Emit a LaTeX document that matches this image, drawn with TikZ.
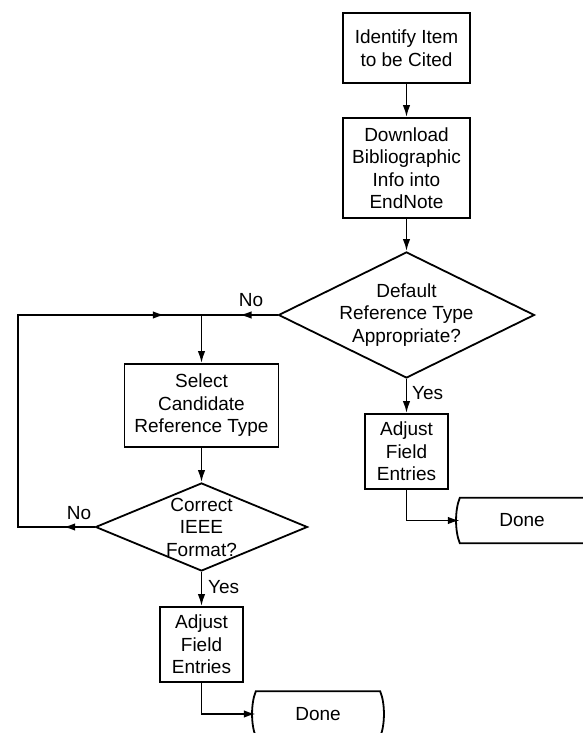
\documentclass[tikz,border=0pt]{standalone}
\usepackage{fontspec}
\setmainfont{Liberation Sans}
\usetikzlibrary{arrows.meta,calc,shapes.geometric}
\tikzset{
  ln/.style={line width=1.8pt},
  arr/.style={ln,-{Latex[length=12pt,width=7.5pt]}},
  box/.style={draw,ln,rectangle,inner sep=0pt,align=center,font=\fontsize{19}{22.5}\selectfont},
  dia/.style={draw,ln,diamond,inner sep=0pt},
  txt/.style={inner sep=0pt,align=center,font=\fontsize{19}{22.5}\selectfont},
  term/.style={rectangle,inner sep=0pt,minimum width=124pt,minimum height=45pt,font=\fontsize{19}{22.5}\selectfont},
}
\begin{document}
\begin{tikzpicture}[x=1pt,y=1pt]
\useasboundingbox[fill=white] (0,0) rectangle (582,733);
% nodes
\node[box,minimum width=127pt,minimum height=70pt] (b1) at (406.5,685) {Identify Item\\to be Cited};
\node[box,minimum width=127pt,minimum height=100pt] (b2) at (406.5,565) {Download\\Bibliographic\\Info into\\EndNote};
\node[dia,minimum width=256pt,minimum height=126pt] (d1) at (406.5,418) {};
\node[txt] (d1t) at (d1) {Default\\Reference Type\\Appropriate?};
\node[box,minimum width=154pt,minimum height=83pt] (s) at (201.5,327.5) {Select\\Candidate\\Reference Type};
\node[dia,minimum width=212pt,minimum height=88pt] (d2) at (201.5,206) {};
\node[txt] (d2t) at (d2) {Correct\\IEEE\\Format?};
\node[box,minimum width=83pt,minimum height=75pt] (a1) at (406.5,281.5) {Adjust\\Field\\Entries};
\node[box,minimum width=83pt,minimum height=75pt] (a2) at (201.5,88.5) {Adjust\\Field\\Entries};
\node[term] (done1) at (522,212.5) {Done};
\node[term] (done2) at (318,19) {Done};
\foreach \n in {done1,done2}{
  \draw[ln] (\n.north west) -- (\n.north east)
    .. controls ($(\n.north east)+(5,-12)$) and ($(\n.south east)+(5,12)$) .. (\n.south east)
    -- (\n.south west)
    .. controls ($(\n.south west)+(-5,12)$) and ($(\n.north west)+(-5,-12)$) .. cycle;
}
% coordinates
\coordinate (j) at (s.north |- d1.west);
\coordinate (lt) at (18,418);
\coordinate (lb) at (lt |- d2.west);
% labels
\node[txt] (no1) at (251,433) {No};
\node[txt] (no2) at (79,220) {No};
\node[txt,anchor=west] (yes1) at (412,340) {Yes};
\node[txt,anchor=west] (yes2) at (208,146) {Yes};
% connectors
\draw[arr] (b1) -- (b2);
\draw[arr] (b2) -- (d1.north);
\draw[ln] (d1.west) -- (j);
\draw[arr] (d1.west) -- ($(d1.west)!0.5!(j)$);
\draw[arr] (j) -- (s.north);
\draw[arr] (s) -- (d2.north);
\draw[ln] (d2.west) -- (lb) -- (lt) -- (j);
\draw[arr] (d2.west) -- ($(d2.west)!0.41!(lb)$);
\draw[arr] (lt) -- ($(lt)!0.8!(j)$);
\draw[arr] (d1.south) -- (a1.north);
\draw[arr] (d2.south) -- (a2.north);
\draw[arr] (a1.south) |- (done1.west);
\draw[arr] (a2.south) |- (done2.west);
\end{tikzpicture}
\end{document}
